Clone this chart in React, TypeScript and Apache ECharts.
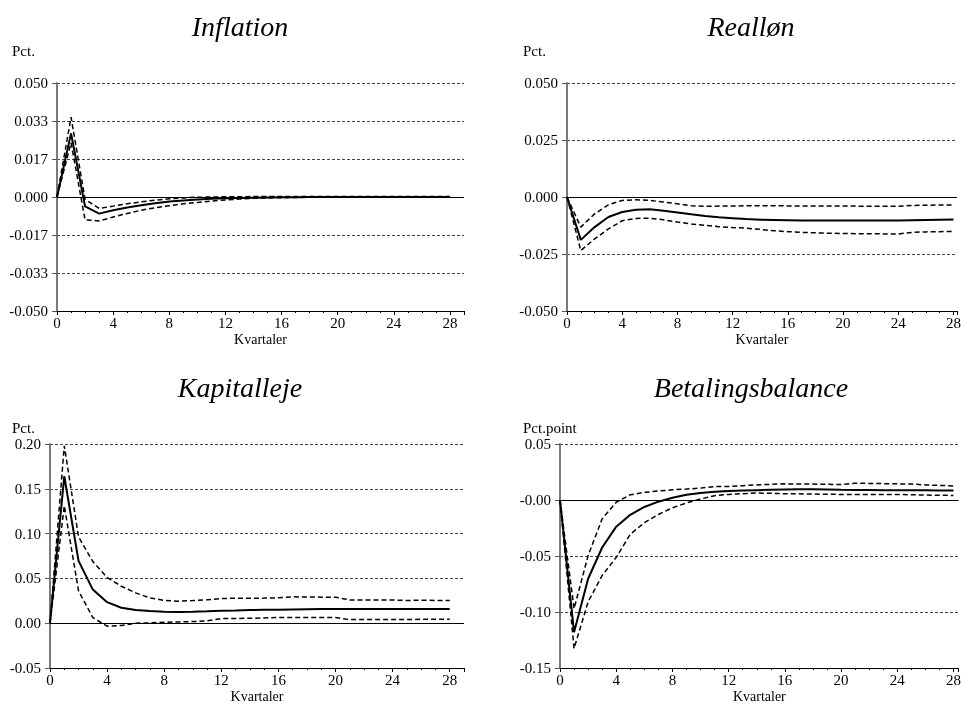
import React, { useEffect, useRef } from "react";
import * as echarts from "echarts";

const quarters = Array.from({ length: 29 }, (_, i) => i);
const xTickLabels = ["0", "4", "8", "12", "16", "20", "24", "28"];

const panelTitles = ["Inflation", "Realløn", "Kapitalleje", "Betalingsbalance"];
const unitLabels = ["Pct.", "Pct.", "Pct.", "Pct.point"];
const xAxisName = "Kvartaler";

// Inflation
const inflationMid = [0, 0.0279, -0.0041, -0.0073, -0.0058, -0.0046, -0.0036, -0.0027, -0.0020, -0.0015, -0.0011, -0.0008, -0.0006, -0.0004, -0.0003, -0.0002, -0.0001, -0.0001, 0, 0, 0, 0, 0, 0, 0, 0, 0, 0, 0];
const inflationUpper = [0, 0.0350, -0.0010, -0.0050, -0.0040, -0.0030, -0.0021, -0.0014, -0.0008, -0.0004, -0.0001, 0, 0.0001, 0.0001, 0.0002, 0.0002, 0.0002, 0.0002, 0.0002, 0.0002, 0.0002, 0.0002, 0.0002, 0.0002, 0.0002, 0.0002, 0.0002, 0.0002, 0.0002];
const inflationLower = [0, 0.0238, -0.0100, -0.0105, -0.0088, -0.0072, -0.0058, -0.0047, -0.0038, -0.0030, -0.0024, -0.0018, -0.0013, -0.0009, -0.0006, -0.0004, -0.0003, -0.0002, -0.0001, -0.0001, 0, 0, 0, 0, 0, 0, 0, 0, 0];
const inflationTicks = ["0.050", "0.033", "0.017", "0.000", "-0.017", "-0.033", "-0.050"];

// Realløn
const reallonMid = [0, -0.0188, -0.0132, -0.0088, -0.0066, -0.0056, -0.0054, -0.0060, -0.0068, -0.0076, -0.0083, -0.0089, -0.0093, -0.0097, -0.0100, -0.0101, -0.0102, -0.0103, -0.0103, -0.0103, -0.0103, -0.0103, -0.0103, -0.0103, -0.0103, -0.0102, -0.0101, -0.0100, -0.0099];
const reallonUpper = [0, -0.0132, -0.0074, -0.0034, -0.0015, -0.0012, -0.0015, -0.0022, -0.0030, -0.0038, -0.0041, -0.0040, -0.0040, -0.0038, -0.0038, -0.0038, -0.0039, -0.0039, -0.0040, -0.0040, -0.0040, -0.0040, -0.0041, -0.0041, -0.0041, -0.0037, -0.0036, -0.0035, -0.0035];
const reallonLower = [0, -0.0235, -0.0184, -0.0140, -0.0104, -0.0094, -0.0093, -0.0100, -0.0110, -0.0118, -0.0124, -0.0130, -0.0134, -0.0137, -0.0142, -0.0148, -0.0152, -0.0155, -0.0157, -0.0159, -0.0160, -0.0161, -0.0161, -0.0162, -0.0162, -0.0155, -0.0153, -0.0152, -0.0151];
const reallonTicks = ["0.050", "0.025", "0.000", "-0.025", "-0.050"];

// Kapitalleje
const kapitalMid = [0, 0.164, 0.0695, 0.0375, 0.0235, 0.0173, 0.0147, 0.0136, 0.0129, 0.0125, 0.0128, 0.0132, 0.0138, 0.0142, 0.0147, 0.0149, 0.0150, 0.0154, 0.0157, 0.0158, 0.0158, 0.0158, 0.0158, 0.0158, 0.0158, 0.0158, 0.0158, 0.0158, 0.0158];
const kapitalUpper = [0, 0.198, 0.0963, 0.0688, 0.0511, 0.0412, 0.0338, 0.0283, 0.0254, 0.0246, 0.0252, 0.0261, 0.0276, 0.0278, 0.0279, 0.0280, 0.0283, 0.0294, 0.0292, 0.0291, 0.0290, 0.0260, 0.0260, 0.0259, 0.0259, 0.0254, 0.0256, 0.0254, 0.0254];
const kapitalLower = [0, 0.131, 0.0360, 0.0063, -0.0033, -0.0026, 0.0, 0.0004, 0.0011, 0.0014, 0.0018, 0.0026, 0.0051, 0.0053, 0.0055, 0.0059, 0.0063, 0.0063, 0.0063, 0.0063, 0.0063, 0.0040, 0.0040, 0.0041, 0.0041, 0.0042, 0.0043, 0.0044, 0.0044];
const kapitalTicks = ["0.20", "0.15", "0.10", "0.05", "0.00", "-0.05"];

// Betalingsbalance
const betalingMid = [0, -0.118, -0.0703, -0.0424, -0.0238, -0.0132, -0.0062, -0.0015, 0.0020, 0.0047, 0.0062, 0.0074, 0.0080, 0.0084, 0.0088, 0.0091, 0.0094, 0.0096, 0.0097, 0.0094, 0.0091, 0.0090, 0.0089, 0.0088, 0.0088, 0.0087, 0.0086, 0.0085, 0.0085];
const betalingUpper = [0, -0.097, -0.0497, -0.0168, -0.0020, 0.0047, 0.0068, 0.0080, 0.0091, 0.0098, 0.0106, 0.0120, 0.0120, 0.0128, 0.0135, 0.0140, 0.0144, 0.0143, 0.0142, 0.0140, 0.0138, 0.0150, 0.0148, 0.0146, 0.0144, 0.0142, 0.0135, 0.0130, 0.0126];
const betalingLower = [0, -0.1326, -0.0909, -0.0674, -0.0512, -0.0306, -0.0203, -0.0129, -0.0070, -0.0026, 0.0009, 0.0038, 0.0050, 0.0056, 0.0062, 0.0060, 0.0056, 0.0055, 0.0053, 0.0051, 0.0050, 0.0050, 0.0050, 0.0050, 0.0050, 0.0047, 0.0044, 0.0042, 0.0041];
const betalingTicks = ["0.05", "-0.00", "-0.05", "-0.10", "-0.15"];

const FONT = "Liberation Serif";

type Panel = {
  title: string;
  unit: string;
  mid: number[];
  upper: number[];
  lower: number[];
  ticks: string[];
  yMin: number;
  yMax: number;
  grid: { left: number; top: number; width: number; height: number };
  xMax: number;
  titlePos: [number, number];
  unitPos: [number, number];
};

const panels: Panel[] = [
  {
    title: panelTitles[0], unit: unitLabels[0],
    mid: inflationMid, upper: inflationUpper, lower: inflationLower,
    ticks: inflationTicks, yMin: -0.05, yMax: 0.05,
    grid: { left: 57, top: 83, width: 407, height: 228 },
    xMax: 29, titlePos: [240, 26], unitPos: [12, 51],
  },
  {
    title: panelTitles[1], unit: unitLabels[1],
    mid: reallonMid, upper: reallonUpper, lower: reallonLower,
    ticks: reallonTicks, yMin: -0.05, yMax: 0.05,
    grid: { left: 567, top: 83, width: 397, height: 228 },
    xMax: 28.25, titlePos: [751, 26], unitPos: [523, 51],
  },
  {
    title: panelTitles[2], unit: unitLabels[2],
    mid: kapitalMid, upper: kapitalUpper, lower: kapitalLower,
    ticks: kapitalTicks, yMin: -0.05, yMax: 0.2,
    grid: { left: 50, top: 444, width: 414, height: 227 },
    xMax: 29, titlePos: [240, 387], unitPos: [12, 428],
  },
  {
    title: panelTitles[3], unit: unitLabels[3],
    mid: betalingMid, upper: betalingUpper, lower: betalingLower,
    ticks: betalingTicks, yMin: -0.15, yMax: 0.05,
    grid: { left: 560, top: 444, width: 404, height: 226 },
    xMax: 28.37, titlePos: [751, 387], unitPos: [523, 428],
  },
];

export default function App() {
  const ref = useRef<HTMLDivElement>(null);

  useEffect(() => {
    if (!ref.current) return;
    const chart = echarts.init(ref.current, null, { renderer: "svg" });

    const grids: any[] = [];
    const xAxes: any[] = [];
    const yAxes: any[] = [];
    const series: any[] = [];
    const graphics: any[] = [];

    panels.forEach((p, i) => {
      grids.push({ ...p.grid });
      xAxes.push({
        type: "value",
        gridIndex: i,
        min: 0,
        max: p.xMax,
        interval: 4,
        name: xAxisName,
        nameLocation: "middle",
        nameGap: 21,
        nameTextStyle: { fontFamily: FONT, fontSize: 14, color: "#000" },
        axisLine: { show: true, onZero: false, lineStyle: { color: "#000", width: 1 } },
        axisTick: { show: true, inside: false, length: 4, lineStyle: { color: "#000" } },
        minorTick: { show: true, splitNumber: 4, length: 2, lineStyle: { color: "#000" } },
        splitLine: { show: false },
        axisLabel: {
          fontFamily: FONT,
          fontSize: 15,
          color: "#000",
          margin: 4,
          formatter: (v: number) => {
            const s = String(Math.round(v));
            return Math.abs(v - Math.round(v)) < 1e-6 && xTickLabels.includes(s) ? s : "";
          },
        },
      });
      const n = p.ticks.length;
      const interval = (p.yMax - p.yMin) / (n - 1);
      yAxes.push({
        type: "value",
        gridIndex: i,
        min: p.yMin,
        max: p.yMax,
        interval,
        axisLine: { show: true, onZero: false, lineStyle: { color: "#7a7a7a", width: 2 } },
        axisTick: { show: true, inside: false, length: 5, lineStyle: { color: "#555" } },
        splitLine: { show: true, lineStyle: { color: "#444", type: [3, 2], width: 1 } },
        axisLabel: {
          fontFamily: FONT,
          fontSize: 15,
          color: "#000",
          margin: 9,
          formatter: (v: number) => {
            const k = Math.round((p.yMax - v) / interval);
            return p.ticks[k] ?? "";
          },
        },
      });
      const toData = (arr: number[]) => quarters.map((q, j) => [q, arr[j]]);
      series.push({
        type: "line",
        xAxisIndex: i,
        yAxisIndex: i,
        data: toData(p.upper),
        symbol: "none",
        lineStyle: { color: "#000", width: 1.5, type: [5, 3] },
        z: 3,
      });
      series.push({
        type: "line",
        xAxisIndex: i,
        yAxisIndex: i,
        data: toData(p.lower),
        symbol: "none",
        lineStyle: { color: "#000", width: 1.5, type: [5, 3] },
        z: 3,
      });
      series.push({
        type: "line",
        xAxisIndex: i,
        yAxisIndex: i,
        data: toData(p.mid),
        symbol: "none",
        lineStyle: { color: "#000", width: 2, type: "solid" },
        z: 4,
        markLine: {
          silent: true,
          symbol: ["none", "none"],
          label: { show: false },
          lineStyle: { color: "#000", width: 1, type: "solid" },
          data: [{ yAxis: 0 }],
          z: 2,
        },
      });
      graphics.push({
        type: "text",
        x: p.titlePos[0],
        y: p.titlePos[1],
        style: {
          text: p.title,
          fill: "#000",
          fontFamily: FONT,
          fontStyle: "italic",
          fontSize: 28,
          align: "center",
          verticalAlign: "middle",
        },
      });
      graphics.push({
        type: "text",
        x: p.unitPos[0],
        y: p.unitPos[1],
        style: {
          text: p.unit,
          fill: "#000",
          fontFamily: FONT,
          fontSize: 15,
          align: "left",
          verticalAlign: "middle",
        },
      });
    });

    chart.setOption({
      animation: false,
      grid: grids,
      xAxis: xAxes,
      yAxis: yAxes,
      series,
      graphic: graphics,
    });

    return () => chart.dispose();
  }, []);

  return (
    <div
      ref={ref}
      style={{ position: "fixed", left: 0, top: 0, width: 964, height: 704 }}
    />
  );
}
